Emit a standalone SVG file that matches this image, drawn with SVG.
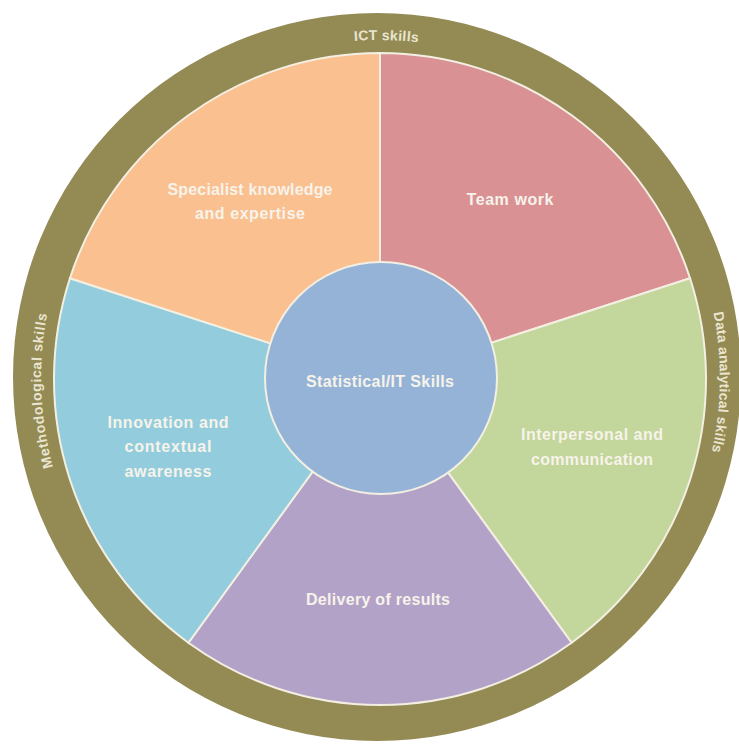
<svg xmlns="http://www.w3.org/2000/svg" width="739" height="744" viewBox="0 0 739 744">
  <style>
    .sector { stroke: #F3EFE2; stroke-width: 2; }
    .label { font-family: "Liberation Sans", Arial, sans-serif; font-weight: bold; font-size: 16px; fill: #F7F3EA; text-anchor: middle; }
    .ring-label { font-family: "Liberation Sans", Arial, sans-serif; font-weight: bold; font-size: 14px; fill: #E9E5D0; text-anchor: middle; }
  </style>
  <defs>
    <!-- baseline arcs for the ring captions, all drawn clockwise -->
    <path id="arcTop" d="M 41 378 A 338 338 0 0 1 717 378"/>
    <path id="arcLeft" d="M 379 716 A 338 338 0 0 1 379 40"/>
    <path id="arcRight" d="M 379 37 A 341 341 0 0 1 379 719"/>
  </defs>
  <rect width="739" height="744" fill="#FFFFFF"/>

  <!-- outer ring -->
  <g id="ring">
    <circle cx="377" cy="377" r="364" fill="#948A54"/>
    <text class="ring-label" letter-spacing="0.3"><textPath href="#arcTop" startOffset="50.7%">ICT skills</textPath></text>
    <text class="ring-label" letter-spacing="0.65"><textPath href="#arcLeft" startOffset="48.8%">Methodological skills</textPath></text>
    <text class="ring-label" letter-spacing="0.15"><textPath href="#arcRight" startOffset="50.4%">Data analytical skills</textPath></text>
  </g>

  <!-- five sectors around the centre -->
  <g id="teamwork">
    <path class="sector" fill="#D99194" d="M 380 379 L 380 53 A 326 326 0 0 1 690.05 278.26 Z"/>
    <text class="label" x="510" y="205" textLength="87">Team work</text>
  </g>
  <g id="interpersonal">
    <path class="sector" fill="#C3D69B" d="M 380 379 L 690.05 278.26 A 326 326 0 0 1 571.62 642.74 Z"/>
    <text class="label" x="592" y="440" textLength="142">Interpersonal and</text>
    <text class="label" x="592" y="465" textLength="122">communication</text>
  </g>
  <g id="delivery">
    <path class="sector" fill="#B3A2C7" d="M 380 379 L 571.62 642.74 A 326 326 0 0 1 188.38 642.74 Z"/>
    <text class="label" x="378" y="605" textLength="144">Delivery of results</text>
  </g>
  <g id="innovation">
    <path class="sector" fill="#93CDDD" d="M 380 379 L 188.38 642.74 A 326 326 0 0 1 69.95 278.26 Z"/>
    <text class="label" x="168" y="428" textLength="121">Innovation and</text>
    <text class="label" x="168" y="452" textLength="87">contextual</text>
    <text class="label" x="168" y="477" textLength="87">awareness</text>
  </g>
  <g id="specialist">
    <path class="sector" fill="#FAC090" d="M 380 379 L 69.95 278.26 A 326 326 0 0 1 380 53 Z"/>
    <text class="label" x="250" y="195" textLength="165">Specialist knowledge</text>
    <text class="label" x="250" y="219" textLength="110">and expertise</text>
  </g>

  <!-- central hub -->
  <g id="statistical">
    <circle cx="381" cy="378" r="116" fill="#95B3D7" stroke="#F3EFE2" stroke-width="2"/>
    <text class="label" x="380" y="387" font-size="17" textLength="148">Statistical/IT Skills</text>
  </g>
</svg>
